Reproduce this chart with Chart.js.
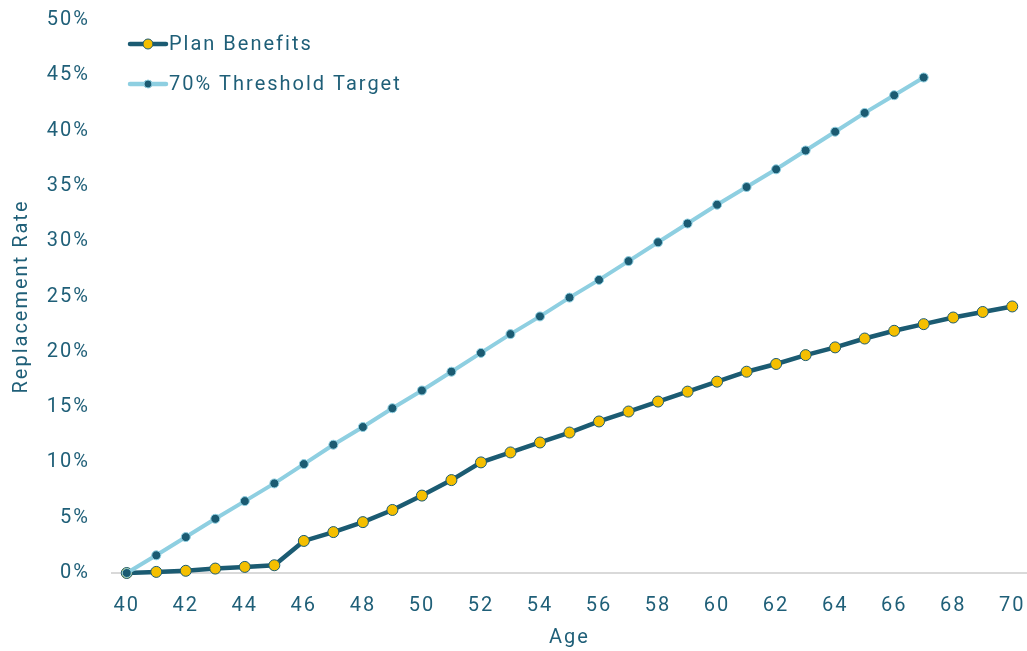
<!DOCTYPE html>
<html>
<head>
<meta charset="utf-8">
<script src="https://cdn.jsdelivr.net/npm/chart.js@4/dist/chart.umd.min.js"></script>
<style>
  html, body { margin: 0; padding: 0; background: #fff; overflow: hidden; }
  canvas { display: block; }
</style>
</head>
<body>
<canvas id="c" width="1027" height="651"></canvas>
<script>
var ages = [40,41,42,43,44,45,46,47,48,49,50,51,52,53,54,55,56,57,58,59,60,61,62,63,64,65,66,67,68,69,70];
var planBenefits = [0,0.1,0.2,0.4,0.55,0.7,2.9,3.7,4.6,5.7,7.0,8.4,10.0,10.9,11.8,12.7,13.7,14.6,15.5,16.4,17.3,18.2,18.9,19.7,20.4,21.2,21.9,22.5,23.1,23.6,24.1];
var thresholdTarget = [0,1.6,3.25,4.9,6.5,8.1,9.85,11.6,13.2,14.9,16.5,18.2,19.9,21.6,23.2,24.9,26.5,28.2,29.9,31.6,33.3,34.9,36.5,38.2,39.9,41.6,43.2,44.8];
var yTicks = [0,5,10,15,20,25,30,35,40,45,50];

(function(){
  var dark = '#1b5b72';
  var light = '#8ecfe1';
  var gold = '#f5bf00';
  var textColor = '#1f5f78';
  var fontFam = 'Roboto, "DejaVu Sans", sans-serif';
  var spacing = '2px';

  // the reference font is tracked out a bit; canvas resets state on resize so set it each pass
  var tracking = {
    id: 'tracking',
    beforeLayout: function(chart){ chart.ctx.letterSpacing = spacing; },
    beforeDraw: function(chart){ chart.ctx.letterSpacing = spacing; }
  };

  // legend drawn inside the plot, top-left
  var legendItems = [
    {text: 'Plan Benefits', line: dark, fill: gold, border: dark, r: 5},
    {text: '70% Threshold Target', line: light, fill: dark, border: light, r: 4}
  ];
  var insideLegend = {
    id: 'insideLegend',
    afterDraw: function(chart){
      var ctx = chart.ctx;
      ctx.save();
      ctx.letterSpacing = spacing;
      ctx.font = '20px ' + fontFam;
      ctx.textBaseline = 'middle';
      legendItems.forEach(function(it, i){
        var y = 44 + i*40;
        ctx.strokeStyle = it.line;
        ctx.lineWidth = 4.5;
        ctx.lineCap = 'round';
        ctx.beginPath();
        ctx.moveTo(130, y); ctx.lineTo(166, y);
        ctx.stroke();
        ctx.beginPath();
        ctx.arc(148, y, it.r, 0, Math.PI*2);
        ctx.fillStyle = it.fill;
        ctx.fill();
        ctx.lineWidth = 1;
        ctx.strokeStyle = it.border;
        ctx.stroke();
        ctx.fillStyle = textColor;
        ctx.fillText(it.text, 169, y + 1);
      });
      ctx.restore();
    }
  };

  new Chart(document.getElementById('c').getContext('2d'), {
    type: 'line',
    data: {
      labels: ages,
      datasets: [
        {
          label: '70% Threshold Target',
          data: thresholdTarget,
          borderColor: light,
          borderWidth: 4,
          pointRadius: 4.5,
          pointBackgroundColor: dark,
          pointBorderColor: light,
          pointBorderWidth: 1,
          tension: 0,
          fill: false,
          clip: false
        },
        {
          label: 'Plan Benefits',
          data: planBenefits,
          borderColor: dark,
          borderWidth: 4.5,
          pointRadius: 5.5,
          pointBackgroundColor: gold,
          pointBorderColor: dark,
          pointBorderWidth: 1,
          tension: 0,
          fill: false,
          clip: false
        }
      ]
    },
    options: {
      responsive: false,
      animation: false,
      layout: { autoPadding: false, padding: { left: 2, right: 0, top: 20, bottom: 0 } },
      scales: {
        x: {
          offset: true,
          afterFit: function(axis){ axis.height = 78; axis.paddingLeft = 0; axis.paddingRight = 0; },
          grid: { display: false, drawTicks: false },
          border: { display: true, color: '#d9d9d9', width: 2 },
          ticks: {
            autoSkip: false,
            maxRotation: 0,
            padding: 21,
            color: textColor,
            font: { family: fontFam, size: 20 },
            callback: function(v, i){ return ages[i] % 2 === 0 ? ages[i] : ''; }
          },
          title: { display: true, text: 'Age', color: textColor, font: { family: fontFam, size: 20 }, padding: { top: 0, bottom: 1 } }
        },
        y: {
          min: 0,
          max: 50,
          afterFit: function(axis){ axis.width = 110; axis.paddingTop = 0; axis.paddingBottom = 0; },
          afterBuildTicks: function(axis){ axis.ticks = yTicks.map(function(v){ return {value: v}; }); },
          grid: { display: false, drawTicks: false },
          border: { display: false },
          ticks: {
            padding: 22,
            color: textColor,
            font: { family: fontFam, size: 20 },
            callback: function(v){ return v + '%'; }
          },
          title: { display: true, text: 'Replacement Rate', color: textColor, font: { family: fontFam, size: 20 }, padding: { top: 8, bottom: 0 } }
        }
      },
      plugins: {
        legend: { display: false },
        tooltip: { enabled: false }
      }
    },
    plugins: [tracking, insideLegend]
  });
})();
</script>
</body>
</html>
